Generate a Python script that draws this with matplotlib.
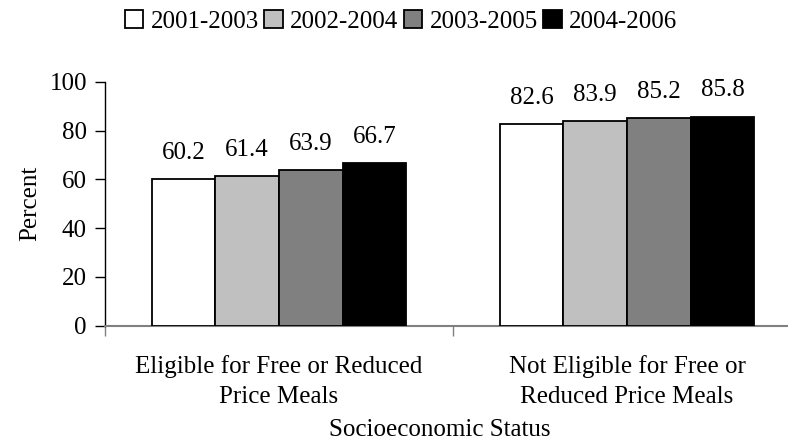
import numpy as np
import matplotlib.pyplot as plt

plt.rcParams['font.family'] = ['Liberation Serif', 'DejaVu Serif']

# Data
categories = ['Eligible for Free or Reduced\nPrice Meals',
              'Not Eligible for Free or\nReduced Price Meals']
periods = ['2001-2003', '2002-2004', '2003-2005', '2004-2006']
values = [
    [60.2, 82.6],
    [61.4, 83.9],
    [63.9, 85.2],
    [66.7, 85.8],
]
colors = ['#FFFFFF', '#C0C0C0', '#808080', '#000000']

W, H = 788, 444
fs = 18
fig = plt.figure(figsize=(W / 100, H / 100), dpi=100)
ax = fig.add_axes([105 / W, 1 - 325.5 / H, 696 / W, 243.5 / H])

centers = np.arange(len(categories)) + 0.5
bw = 0.183
for i, (lab, vals) in enumerate(zip(periods, values)):
    x = centers + (i - 1.5) * bw
    bars = ax.bar(x, vals, bw, color=colors[i], edgecolor='black',
                  linewidth=1.3, label=lab, zorder=3)
    ax.bar_label(bars, labels=[f'{v:.1f}' for v in vals], padding=11,
                 fontsize=fs)

ax.set_xlim(0, 2)
ax.set_ylim(0, 100)
ax.set_yticks(np.arange(0, 101, 20))
ax.set_xticks([0, 1, 2])
ax.set_xticklabels([])
ax.set_xticks(centers, minor=True)
ax.set_xticklabels(categories, minor=True, fontsize=fs, linespacing=1.5)
ax.tick_params(axis='x', which='minor', length=0, pad=21)
ax.tick_params(axis='x', which='major', length=7, width=1, color='#808080')
ax.tick_params(axis='y', length=7, width=1, labelsize=fs, pad=6)

for s in ['top', 'right']:
    ax.spines[s].set_visible(False)
ax.spines['bottom'].set_color('#808080')
ax.spines['bottom'].set_linewidth(1.5)
ax.spines['left'].set_linewidth(1)

ax.set_ylabel('Percent', fontsize=fs, labelpad=6)
ax.set_xlabel('Socioeconomic Status', fontsize=fs)
ax.xaxis.set_label_coords((440 - 105) / 696, -0.385)

fig.legend(loc='upper center', bbox_to_anchor=(401 / W, 1.0), ncol=4,
           frameon=False, fontsize=fs, handlelength=0.75, handleheight=0.75,
           handletextpad=0.3, columnspacing=0.2, borderaxespad=0)

fig.savefig('out.png', dpi=100)
